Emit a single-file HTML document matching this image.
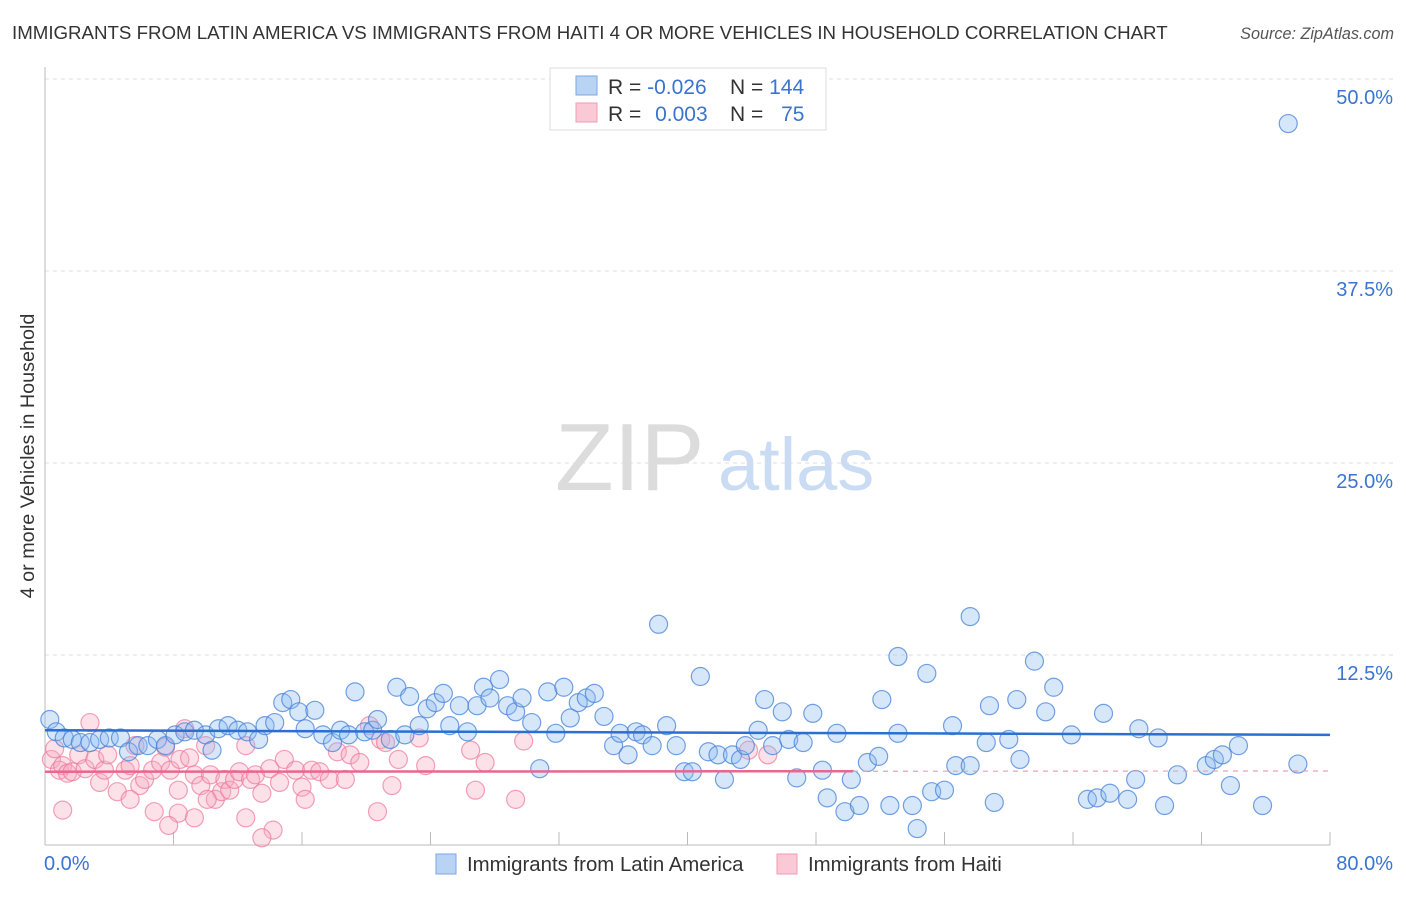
<!DOCTYPE html>
<html><head><meta charset="utf-8"><style>
body{margin:0;background:#fff;font-family:"Liberation Sans",sans-serif;}
svg text{font-family:"Liberation Sans",sans-serif;}
</style></head><body>
<svg id="chart" width="1406" height="892" viewBox="0 0 1406 892" xmlns="http://www.w3.org/2000/svg">
<text x="12" y="39" font-size="18.7" fill="#333">IMMIGRANTS FROM LATIN AMERICA VS IMMIGRANTS FROM HAITI 4 OR MORE VEHICLES IN HOUSEHOLD CORRELATION CHART</text>
<text x="1394" y="39" font-size="16.2" fill="#555" font-style="italic" text-anchor="end">Source: ZipAtlas.com</text>
<g>
<text x="555" y="490" font-size="96" fill="#dcdcdc" font-family="Liberation Serif, serif">ZIP</text>
<text x="718" y="490" font-size="74" fill="#c9dcf3">atlas</text>
</g>
<g id="grid"></g>
<g id="axes"></g>
<g id="pts"></g>
<g id="trend"></g>
<text transform="translate(34,456) rotate(-90)" font-size="19.8" fill="#333" text-anchor="middle">4 or more Vehicles in Household</text>
<g>
<rect x="550" y="68" width="276" height="62" fill="#fff" stroke="#ddd"/>
<rect x="576" y="76" width="21" height="19" fill="#b8d3f4" stroke="#7aa8e3"/>
<rect x="576" y="103" width="21" height="19" fill="#fbc8d6" stroke="#f09ab3"/>
<text x="608" y="94" font-size="21" fill="#333">R = <tspan fill="#3a74d0">-0.026</tspan></text>
<text x="730" y="94" font-size="21" fill="#333">N = <tspan fill="#3a74d0">144</tspan></text>
<text x="608" y="121" font-size="21" fill="#333">R = <tspan fill="#3a74d0" dx="8">0.003</tspan></text>
<text x="730" y="121" font-size="21" fill="#333">N = <tspan fill="#3a74d0" dx="12">75</tspan></text>
</g>
<g>
<rect x="436" y="854" width="20" height="20" fill="#b8d3f4" stroke="#7aa8e3"/>
<text x="467" y="871" font-size="20.4" fill="#333">Immigrants from Latin America</text>
<rect x="777" y="854" width="20" height="20" fill="#fbc8d6" stroke="#f09ab3"/>
<text x="808" y="871" font-size="20.4" fill="#333">Immigrants from Haiti</text>
</g>
</svg>
<script>
const yTicks=[12.5,25,37.5,50];
const yTickLabels=["12.5%","25.0%","37.5%","50.0%"];
const xTicks=[0,8,16,24,32,40,48,56,64,72,80];
const blueX=[0.3,0.7,1.2,1.7,2.2,2.8,3.4,4.0,4.7,5.2,5.8,6.4,7.0,7.5,8.1,8.7,9.3,10.0,10.4,10.8,11.4,12.0,12.6,13.3,13.7,14.3,14.8,15.3,15.8,16.2,16.8,17.3,17.9,18.4,18.9,19.3,19.9,20.4,20.7,21.5,21.9,22.4,22.7,23.3,23.8,24.3,24.8,25.2,25.8,26.3,26.9,27.3,27.7,28.3,28.8,29.3,29.7,30.3,30.8,31.3,31.8,32.3,32.7,33.2,33.7,34.2,34.8,35.4,35.8,36.3,36.8,37.2,37.8,38.2,38.7,39.3,39.8,40.3,40.8,41.3,41.9,42.3,42.8,43.3,43.6,44.4,44.8,45.3,45.9,46.3,46.8,47.2,47.8,48.4,48.7,49.3,49.8,50.2,50.7,51.2,51.9,52.1,52.6,53.1,53.1,54.0,54.3,54.9,55.2,56.0,56.5,56.7,57.6,57.6,58.6,58.8,59.1,60.0,60.5,60.7,61.6,62.3,62.8,63.9,64.9,65.5,65.9,66.3,67.4,67.9,68.1,69.3,69.7,70.5,72.3,72.8,73.3,73.8,74.3,75.8,78.0,77.4];
const blueY=[8.3,7.5,7.1,7.0,6.8,6.8,7.0,7.1,7.1,6.2,6.6,6.6,7.0,6.6,7.3,7.5,7.6,7.3,6.3,7.7,7.9,7.6,7.5,7.0,7.9,8.1,9.4,9.6,8.8,7.7,8.9,7.3,6.8,7.6,7.3,10.1,7.5,7.6,8.3,7.0,10.4,7.3,9.8,7.9,9.0,9.4,10.0,7.9,9.2,7.5,9.2,10.4,9.7,10.9,9.2,8.8,9.7,8.1,5.1,10.1,7.4,10.4,8.4,9.4,9.7,10.0,8.5,6.6,7.4,6.0,7.5,7.3,6.6,14.5,7.9,6.6,4.9,4.9,11.1,6.2,6.0,4.4,6.0,5.7,6.6,7.6,9.6,6.6,8.8,7.0,4.5,6.8,8.7,5.0,3.2,7.4,2.3,4.4,2.7,5.5,5.9,9.6,2.7,12.4,7.4,2.7,1.2,11.3,3.6,3.7,7.9,5.3,5.3,15.0,6.8,9.2,2.9,7.0,9.6,5.7,12.1,8.8,10.4,7.3,3.1,3.2,8.7,3.5,3.1,4.4,7.7,7.1,2.7,4.7,5.3,5.7,6.0,4.0,6.6,2.7,5.4,47.1];
const pinkX=[0.4,0.6,0.9,1.1,1.4,1.7,2.1,2.5,2.8,3.1,3.4,3.7,3.9,4.5,5.0,5.3,5.6,5.9,6.2,6.7,6.8,7.2,7.5,7.8,8.3,8.4,8.7,9.0,9.3,9.7,10.0,10.3,10.6,11.0,11.2,11.5,11.8,12.1,12.5,12.8,13.1,13.5,14.0,14.2,14.6,14.9,15.6,16.0,16.2,16.6,17.1,17.7,18.2,18.7,19.0,19.6,20.2,20.9,21.2,21.6,22.0,23.3,23.7,26.5,26.8,27.4,29.3,1.1,20.7,13.5,12.5,9.3,7.7,10.1,5.3,8.3,43.8,45.0,29.8];
const pinkY=[5.7,6.4,5.0,5.3,4.8,4.9,6.0,5.1,8.1,5.7,4.2,5.0,6.0,3.6,5.0,5.3,6.6,4.0,4.4,5.0,2.3,5.5,6.5,5.0,2.2,5.7,7.7,5.8,4.7,4.0,6.6,4.7,3.1,3.6,4.4,3.7,4.4,4.9,6.6,4.4,4.7,3.5,5.1,1.1,4.2,5.7,5.0,3.9,3.1,5.0,4.9,4.4,6.2,4.4,6.0,5.5,7.9,7.0,6.8,4.0,5.7,7.1,5.3,6.3,3.7,5.5,3.1,2.4,2.3,0.6,1.9,1.9,1.4,3.1,3.1,3.7,6.3,6.0,6.9];
const blueTrend=[7.6,7.3];
const pinkTrend=[4.9,4.95];
const pinkSolidEnd=50.3;

const NS="http://www.w3.org/2000/svg";
const X0=45,X1=1330,Y0=847,PXPER=15.36;
function sx(v){return X0+(v/80)*(X1-X0);}
function sy(v){return Y0-v*PXPER;}
function mk(tag,attrs,parent){const e=document.createElementNS(NS,tag);for(const k in attrs)e.setAttribute(k,attrs[k]);parent.appendChild(e);return e;}
const grid=document.getElementById('grid'),axes=document.getElementById('axes'),pts=document.getElementById('pts'),trend=document.getElementById('trend');
yTicks.forEach((t,i)=>{
  const l=mk('line',{x1:X0,x2:1394,y1:sy(t),y2:sy(t),stroke:'#ddd','stroke-dasharray':'4 4'},grid);
  
  
  const tx=mk('text',{x:1393,y:sy(t)+25,'font-size':20,fill:'#3a74d0','text-anchor':'end'},axes);
  tx.textContent=yTickLabels[i];
  
  
});
const ya=mk('line',{x1:X0,x2:X0,y1:67,y2:845,stroke:'#bbb'},axes);


const xa=mk('line',{x1:X0,x2:X1,y1:845,y2:845,stroke:'#bbb'},axes);


xTicks.forEach(t=>{
  const l=mk('line',{x1:sx(t),x2:sx(t),y1:832,y2:845,stroke:'#bbb'},axes);
  
  
});
const xl0=mk('text',{x:44,y:870,'font-size':20,fill:'#3a74d0'},axes);xl0.textContent='0.0%';


const xl1=mk('text',{x:1393,y:870,'font-size':20,fill:'#3a74d0','text-anchor':'end'},axes);xl1.textContent='80.0%';


pinkX.forEach((x,i)=>{
  const c=mk('circle',{cx:sx(x),cy:sy(pinkY[i]),r:9,fill:'rgba(247,168,192,0.35)',stroke:'rgba(236,120,155,0.7)','stroke-width':1.2},pts);
  
  
});
blueX.forEach((x,i)=>{
  const c=mk('circle',{cx:sx(x),cy:sy(blueY[i]),r:9,fill:'rgba(140,185,240,0.35)',stroke:'rgba(70,130,215,0.75)','stroke-width':1.2},pts);
  
  
});
const bl=mk('line',{x1:sx(0),x2:sx(80),y1:sy(blueTrend[0]),y2:sy(blueTrend[1]),stroke:'#2a6fd1','stroke-width':2.5},trend);


const pm=pinkTrend[0]+(pinkTrend[1]-pinkTrend[0])*pinkSolidEnd/80;
const pl=mk('line',{x1:sx(0),x2:sx(pinkSolidEnd),y1:sy(pinkTrend[0]),y2:sy(pm),stroke:'#e8668f','stroke-width':2.5},trend);


const pd=mk('line',{x1:sx(pinkSolidEnd),x2:sx(80),y1:sy(pm),y2:sy(pinkTrend[1]),stroke:'#e8a0b5','stroke-width':1.2,'stroke-dasharray':'5 5'},trend);


</script>
</body></html>
